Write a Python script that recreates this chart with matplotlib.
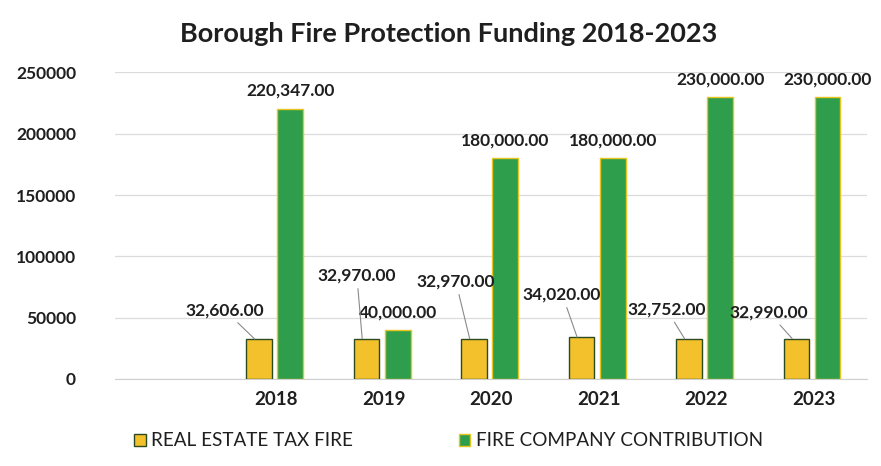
import matplotlib.pyplot as plt
import numpy as np

years = ["2018", "2019", "2020", "2021", "2022", "2023"]
real_estate = [32606, 32970, 32970, 34020, 32752, 32990]
fire_company = [220347, 40000, 180000, 180000, 230000, 230000]
yticks = [0, 50000, 100000, 150000, 200000, 250000]

# where the yellow labels sit (offset in category units, value)
re_label_pos = [(-0.48, 49700), (-0.25, 78200), (-0.33, 73300), (-0.34, 62700), (-0.37, 50500), (-0.42, 48000)]

yellow = "#F3C12B"
green = "#2E9E4C"
txt = "#1f1f1f"

plt.rcParams["font.family"] = ["Lato", "DejaVu Sans"]

fig = plt.figure(figsize=(8.81, 4.66), dpi=100)
ax = fig.add_axes([0.1305, 0.1867, 0.854, 0.658])

x = np.arange(len(years))
w = 0.24
b1 = ax.bar(x - 0.16, real_estate, w, color=yellow, edgecolor="#2d4a1e", linewidth=1.0, zorder=3,
            label="REAL ESTATE TAX FIRE")
b2 = ax.bar(x + 0.13, fire_company, w, color=green, edgecolor="#e8c420", linewidth=1.0, zorder=3,
            label="FIRE COMPANY CONTRIBUTION")

for i, v in enumerate(fire_company):
    ax.text(x[i] + 0.13, v + 8000, f"{v:,.2f}", ha="center", va="bottom", fontsize=12.5,
            fontweight="bold", color=txt, clip_on=False)

for i, v in enumerate(real_estate):
    dx, ly = re_label_pos[i]
    ax.annotate(f"{v:,.2f}", xy=(x[i] - 0.2, v), xytext=(x[i] + dx, ly),
                ha="center", va="bottom", fontsize=12.5, fontweight="bold", color=txt,
                arrowprops=dict(arrowstyle="-", color="#8a8a8a", lw=0.8, shrinkA=2, shrinkB=0))

ax.set_xlim(-1.5, 5.5)
ax.set_ylim(0, 250000)
ax.set_xticks(x)
ax.set_xticklabels(years, fontsize=13.5, fontweight="bold", color=txt)
ax.set_yticks(yticks)
ax.set_yticklabels([str(t) for t in yticks], fontsize=12.5, fontweight="bold", color=txt)
ax.tick_params(axis="both", length=0)
ax.tick_params(axis="y", pad=28)
ax.tick_params(axis="x", pad=9)
ax.grid(axis="y", color="#dcdcdc", linewidth=0.9, zorder=0)
for s in ["top", "right", "left"]:
    ax.spines[s].set_visible(False)
ax.spines["bottom"].set_color("#cfcfcf")

fig.text(0.509, 0.928, "Borough Fire Protection Funding 2018-2023", ha="center", va="center",
         fontsize=19.5, fontweight="bold", color=txt)

fig.legend(handles=[b1, b2], loc="center left", bbox_to_anchor=(0.133, 0.054), ncol=2, frameon=False,
           fontsize=13.6, handlelength=0.6, handleheight=0.6, handletextpad=0.3, columnspacing=5.6,
           labelcolor=txt)

fig.savefig("out.png", dpi=100)
